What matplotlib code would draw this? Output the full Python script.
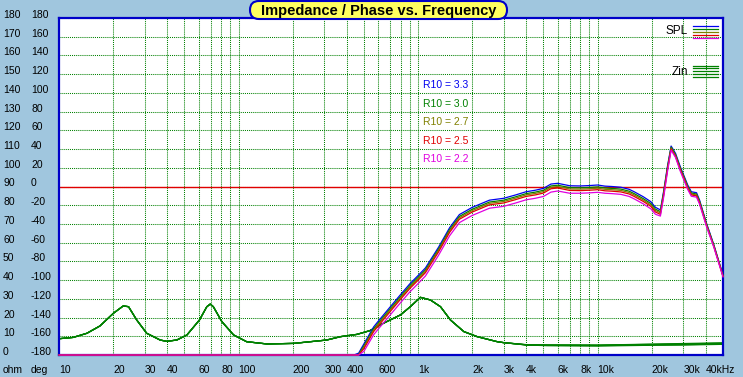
import matplotlib
matplotlib.use('Agg')
import matplotlib.pyplot as plt
import matplotlib.transforms as mtransforms
from matplotlib.patches import FancyBboxPatch
from matplotlib.ticker import NullLocator

W, H = 743, 377
BG = '#A0C6DE'
FONT = 'Liberation Sans'

# ---------------- data ----------------
ohm_ticks = list(range(0, 181, 10))
deg_ticks = list(range(-180, 181, 20))
x_label_freqs = [10, 20, 30, 40, 60, 80, 100, 200, 300, 400, 600, 1000, 2000,
                 3000, 4000, 6000, 8000, 10000, 20000, 30000, 40000]
x_labels = ['10', '20', '30', '40', '60', '80', '100', '200', '300', '400', '600',
            '1k', '2k', '3k', '4k', '6k', '8k', '10k', '20k', '30k', '40kHz']
grid_freqs = [20, 30, 40, 50, 60, 70, 80, 90,
              100, 200, 300, 400, 500, 600, 700, 800, 900,
              1000, 2000, 3000, 4000, 5000, 6000, 7000, 8000, 9000,
              10000, 20000, 30000, 40000]

spl_freq = [10, 440, 467, 500, 566, 600, 700, 800, 900, 1000, 1100, 1300, 1500,
            1700, 2000, 2500, 3000, 3500, 4000, 4500, 5000, 5500, 6000, 7000,
            8000, 9000, 10000, 11000, 12000, 13500, 15000, 16000, 18000, 19800,
            21000, 22400, 23400, 24500, 25700, 27200, 28900, 31800, 33300, 35600,
            37000, 40500, 44500, 50000]
spl_r33 = [0, 0, 1, 6, 15, 18, 25.7, 32.3, 38, 42.4, 46.5, 57.5, 68, 75, 78.8, 82.7,
           83.7, 85.5, 87.2, 88, 89, 91.3, 91.7, 90.4, 90.3, 90.5, 90.8, 90.2, 90,
           89.6, 88.5, 87.2, 84.5, 81.9, 78.9, 77.5, 88, 100.6, 111.6, 107.7, 100.6,
           90.8, 87.2, 86.7, 82.8, 70.3, 58.8, 42.7]
spl_r30 = [0, 0, 0.3, 5, 14, 17, 24.7, 31.3, 37, 41.4, 45.5, 56.5, 67, 74, 77.8, 81.7,
           82.7, 84.5, 86.2, 87, 88, 90.3, 90.7, 89.4, 89.3, 89.5, 89.8, 89.2, 89,
           88.6, 87.5, 86.2, 83.5, 80.9, 77.9, 76.6, 87.2, 99.8, 111, 107, 99.9,
           90.1, 86.5, 86, 82.2, 69.8, 58.4, 42.4]
spl_r27 = [0, 0, 0, 4.3, 13.3, 16.3, 24, 30.6, 36.3, 40.7, 44.8, 55.8, 66.3, 73.3, 77.1,
           81, 82, 83.8, 85.5, 86.3, 87.3, 89.6, 90, 88.7, 88.6, 88.8, 89.1, 88.5, 88.3,
           87.9, 86.8, 85.5, 82.8, 80.2, 77.2, 75.9, 86.5, 99.2, 110.5, 106.5, 99.4,
           89.6, 86, 85.5, 81.7, 69.4, 58.1, 42.2]
spl_r25 = [0, 0, 0, 3.5, 12.5, 15.5, 23.2, 29.8, 35.5, 39.9, 44, 55, 65.5, 72.5, 76.3,
           80.2, 81.2, 83, 84.7, 85.5, 86.5, 88.8, 89.2, 87.9, 87.8, 88, 88.3, 87.7,
           87.5, 87.1, 86, 84.7, 82, 79.4, 76.4, 75.1, 85.8, 98.6, 110, 106, 98.9,
           89.1, 85.5, 85, 81.2, 69, 57.8, 42]
spl_r22 = [0, 0, 0, 2, 10.8, 13.8, 21.4, 28, 33.7, 38.1, 42.2, 53.2, 63.7, 70.7, 74.5,
           78.4, 79.4, 81.2, 82.9, 83.7, 84.7, 87, 87.6, 86.4, 86.4, 86.6, 86.9, 86.4,
           86.2, 85.8, 84.7, 83.4, 80.7, 78.1, 75.2, 74.2, 84.7, 97.6, 109.4, 105.5,
           98.2, 88.4, 84.8, 84.3, 80.6, 68.5, 57.4, 41.7]

zin_freq = [10, 12, 14.3, 16.9, 20.1, 22.8, 24.4, 27.1, 30.8, 36.6, 39.8, 45.3, 51.6,
            60.6, 66.6, 69.6, 72.4, 80.8, 93.9, 111, 144, 203, 310, 370, 456, 539,
            640, 798, 906, 1030, 1172, 1334, 1516, 1800, 2136, 2766, 3000, 4060,
            5263, 10000, 20000, 29000, 50000]
zin_1 = [8.7, 9.4, 11.6, 15.5, 22.3, 26.2, 25.8, 18.7, 11.6, 8.0, 7.3, 8.0, 10.7,
         18.7, 25.8, 27.2, 25.8, 17.8, 10.7, 7.1, 5.9, 6.2, 8.0, 9.8, 11.0, 13.0,
         16.9, 21.4, 25.8, 30.8, 29.4, 25.8, 18.7, 12.5, 9.8, 7.1, 6.6, 5.3,
         5.0, 4.8, 5.2, 5.3, 5.7]
zin_2 = [8.7, 9.4, 11.6, 15.5, 22.3, 26.2, 25.8, 18.7, 11.6, 8.0, 7.3, 8.0, 10.7,
         18.7, 25.8, 27.2, 25.8, 17.8, 10.7, 7.1, 5.9, 6.2, 8.0, 9.8, 11.0, 13.0,
         16.9, 21.4, 25.8, 30.8, 29.4, 25.8, 18.7, 12.5, 9.8, 7.1, 6.6, 5.3,
         5.1, 5.0, 5.4, 5.5, 5.9]
zin_3 = [8.7, 9.4, 11.6, 15.5, 22.3, 26.2, 25.8, 18.7, 11.6, 8.0, 7.3, 8.0, 10.7,
         18.7, 25.8, 27.2, 25.8, 17.8, 10.7, 7.1, 5.9, 6.2, 8.0, 9.8, 11.0, 13.0,
         16.9, 21.4, 25.8, 30.8, 29.4, 25.8, 18.7, 12.5, 9.8, 7.1, 6.6, 5.4,
         5.2, 5.1, 5.5, 5.7, 6.1]
zin_4 = [8.7, 9.4, 11.6, 15.5, 22.3, 26.2, 25.8, 18.7, 11.6, 8.0, 7.3, 8.0, 10.7,
         18.7, 25.8, 27.2, 25.8, 17.8, 10.7, 7.1, 5.9, 6.2, 8.0, 9.8, 11.0, 13.0,
         16.9, 21.4, 25.8, 30.8, 29.4, 25.8, 18.7, 12.5, 9.8, 7.1, 6.6, 5.4,
         5.3, 5.2, 5.7, 5.9, 6.3]
zin_5 = [8.7, 9.4, 11.6, 15.5, 22.3, 26.2, 25.8, 18.7, 11.6, 8.0, 7.3, 8.0, 10.7,
         18.7, 25.8, 27.2, 25.8, 17.8, 10.7, 7.1, 5.9, 6.2, 8.0, 9.8, 11.0, 13.0,
         16.9, 21.4, 25.8, 30.8, 29.4, 25.8, 18.7, 12.5, 9.8, 7.1, 6.6, 5.5,
         5.4, 5.3, 5.8, 6.1, 6.5]

r10_labels = ['R10 = 3.3', 'R10 = 3.0', 'R10 = 2.7', 'R10 = 2.5', 'R10 = 2.2']
spl_series = [spl_r33, spl_r30, spl_r27, spl_r25, spl_r22]
zin_series = [zin_1, zin_2, zin_3, zin_4, zin_5]
title = 'Impedance / Phase vs. Frequency'
ref_level = 90

# ---------------- styles ----------------
spl_colors = ['#0000F0', '#008000', '#808000', '#E00000', '#E000E0']
zin_color = '#008000'
border = '#0000C8'

fig = plt.figure(figsize=(W / 100, H / 100), dpi=100, facecolor=BG)
ax = fig.add_axes([59 / W, (H - 355) / H, (723 - 59) / W, (355 - 18) / H])
ax.set_facecolor('white')
ax.set_xscale('log')
ax.set_xlim(10, 50000)
ax.set_ylim(0, 180)
ax.set_xticks(grid_freqs)
ax.xaxis.set_minor_locator(NullLocator())
ax.set_yticks(ohm_ticks)
ax.tick_params(length=0, labelbottom=False, labelleft=False)
ax.grid(True, color='#008000', linestyle=(0, (1, 1)), linewidth=0.75)
for sp in ax.spines.values():
    sp.set_color(border)
    sp.set_linewidth(1.6)
    sp.set_zorder(5)

ax.axhline(ref_level, color='#E00000', lw=1.0, zorder=2)

for z in zin_series:
    ax.plot(zin_freq, z, color=zin_color, lw=0.9, zorder=3)
for s, c in zip(spl_series, spl_colors):
    ax.plot(spl_freq, s, color=c, lw=0.9, zorder=6, clip_on=False)

# y tick labels (two columns)
ytr = mtransforms.offset_copy(
    mtransforms.blended_transform_factory(fig.transFigure, ax.transData),
    fig=fig, y=3, units='dots')
for o, d in zip(ohm_ticks, deg_ticks):
    fig.text(3 / W, o, str(o), transform=ytr, ha='left', va='center',
             fontsize=7.5, family=FONT)
    fig.text(31 / W, o, str(d), transform=ytr, ha='left', va='center',
             fontsize=7.5, family=FONT)

# x tick labels
xtr = mtransforms.blended_transform_factory(ax.transData, fig.transFigure)
for f, lab in zip(x_label_freqs, x_labels):
    ax.text(f, (H - 370) / H, lab, transform=xtr, ha='left', va='center',
            fontsize=7.5, family=FONT, clip_on=False)
fig.text(3 / W, (H - 370) / H, 'ohm', ha='left', va='center', fontsize=7.5, family=FONT)
fig.text(31 / W, (H - 370) / H, 'deg', ha='left', va='center', fontsize=7.5, family=FONT)

# R10 labels
for i, (lab, c) in enumerate(zip(r10_labels, spl_colors)):
    fig.text(423 / W, (H - (85 + i * 18.6)) / H, lab, color=c, ha='left', va='center',
             fontsize=7.5, family=FONT)

# legend keys
fig.text(688 / W, (H - 31.5) / H, 'SPL', ha='right', va='center', fontsize=8.5, family=FONT)
fig.text(688 / W, (H - 72) / H, 'Zin', ha='right', va='center', fontsize=8.5, family=FONT)
for i, c in enumerate(spl_colors):
    yy = (H - (25.5 + i * 3)) / H
    fig.add_artist(plt.Line2D([693 / W, 718 / W], [yy, yy], color=c, lw=0.9,
                              transform=fig.transFigure))
for i in range(5):
    yy = (H - (65.5 + i * 2.9)) / H
    fig.add_artist(plt.Line2D([693 / W, 718 / W], [yy, yy], color=zin_color, lw=0.9,
                              transform=fig.transFigure))

# title box
box = FancyBboxPatch((250 / W, (H - 19) / H), (507 - 250) / W, 18 / H,
                     boxstyle='round,pad=0,rounding_size=0.012',
                     transform=fig.transFigure, facecolor='#FFFF60',
                     edgecolor=border, linewidth=1.5, zorder=10, mutation_aspect=W / H)
fig.add_artist(box)
fig.text(378.5 / W, (H - 10.5) / H, title, ha='center', va='center',
         fontsize=10.5, fontweight='bold', family=FONT, zorder=11)

fig.savefig('out.png', dpi=100, facecolor=BG)
